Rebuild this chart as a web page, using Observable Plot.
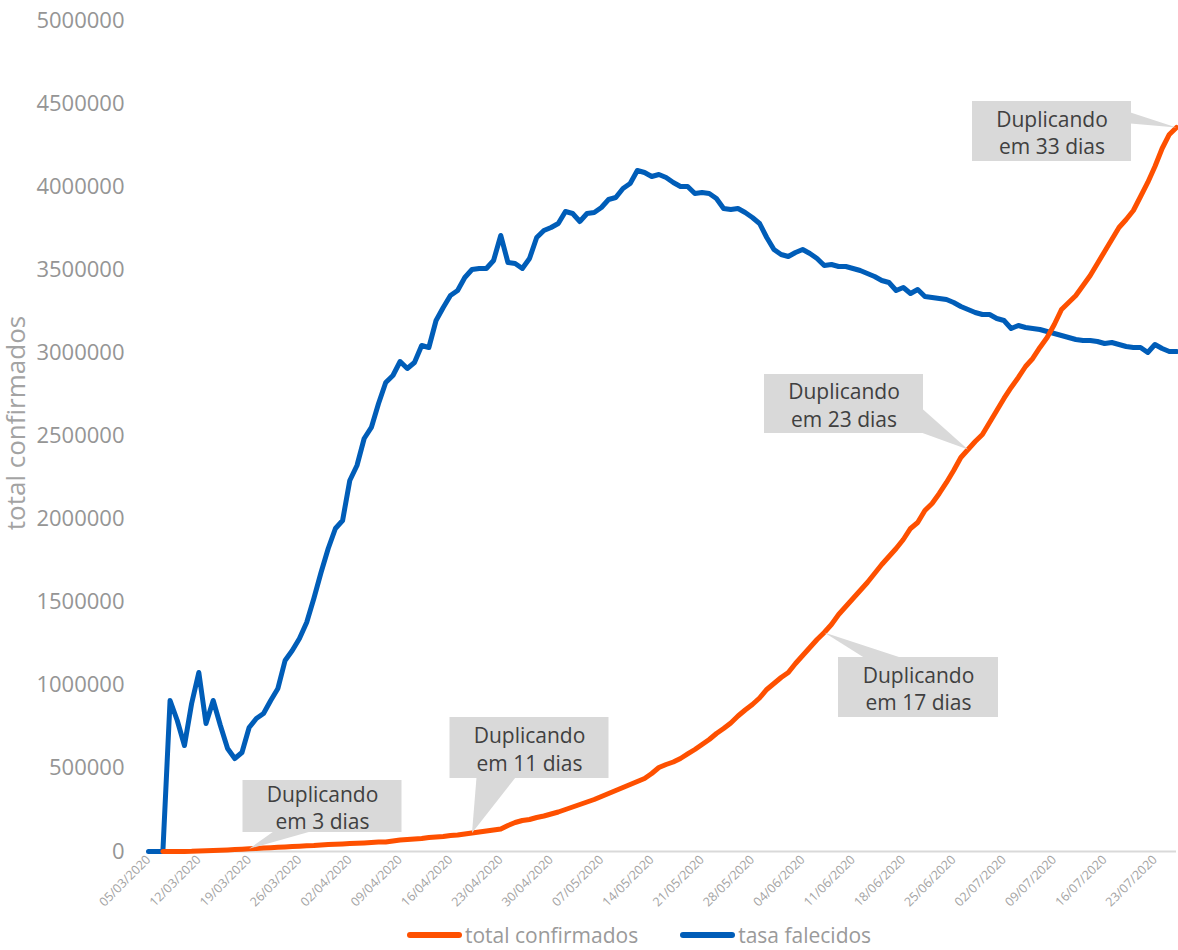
<!DOCTYPE html>
<html>
<head>
<meta charset="utf-8">
<script src="https://cdn.jsdelivr.net/npm/d3@7"></script>
<script src="https://cdn.jsdelivr.net/npm/@observablehq/plot@0.6"></script>
<style>
  html, body { margin: 0; padding: 0; background: #fff; }
  #wrap { position: relative; width: 1178px; height: 950px; font-family: "Open Sans", sans-serif; }
  #legend { position: absolute; left: 407px; top: 921px; display: flex; align-items: center; font-size: 21px; color: #9a9a9a; white-space: nowrap; }
  .sw { display: inline-block; width: 55px; height: 6px; border-radius: 3px; margin-right: 3px; }
</style>
</head>
<body>
<div id="wrap">
  <div id="chart"></div>
  <div id="legend"></div>
</div>
<script>
// ---------- DATA ----------
const startDate = "2020-03-05";
const nDays = 144; // 05/03/2020 .. 26/07/2020

const confirmados = [
  null, null, 100, 200, 300, 600, 1200, 3000, 4200, 6000,
  7800, 9600, 12000, 13800, 16200, 18000, 20500, 22900, 25300, 27700,
  30100, 31900, 34300, 36100, 39100, 42100, 43900, 45700, 48100, 49900,
  51700, 54200, 56600, 57200, 63200, 69200, 72200, 75200, 78200, 84200,
  87200, 90300, 96300, 99300, 105300, 111300, 117300, 123300, 129400, 135400,
  156400, 174500, 186500, 192500, 204600, 213600, 225600, 237700, 252700, 267800,
  282800, 297800, 312900, 330900, 349000, 367000, 385100, 403100, 421200, 439200,
  469300, 505400, 523500, 538500, 559600, 586700, 613700, 643800, 673900, 710000,
  740100, 773200, 815300, 851400, 884500, 923600, 974800, 1010900, 1047000, 1077000,
  1131200, 1179300, 1227500, 1275600, 1317700, 1365900, 1426000, 1474200, 1522300, 1570400,
  1618600, 1672700, 1726900, 1775000, 1823200, 1877300, 1943500, 1979600, 2051800, 2093900,
  2154100, 2220300, 2292500, 2370700, 2418800, 2467000, 2509100, 2581300, 2653500, 2725700,
  2791900, 2852100, 2918200, 2966400, 3032600, 3092700, 3171000, 3261200, 3303300, 3345500,
  3405600, 3465800, 3538000, 3610200, 3682400, 3754600, 3802700, 3856900, 3941100, 4025400,
  4121600, 4229900, 4314200, 4356300
];

const falecidos = [
  0, 0, 0, 908600, 788200, 637800, 890500, 1077000, 770200, 908600,
  758100, 619800, 559600, 595700, 746100, 800300, 830300, 908600, 980800, 1149200,
  1209400, 1281600, 1377900, 1522300, 1678700, 1823200, 1943500, 1991600, 2232300, 2322600,
  2485000, 2551200, 2695600, 2822000, 2864100, 2948300, 2906200, 2942300, 3044600, 3032600,
  3195000, 3273200, 3345500, 3375500, 3453800, 3501900, 3507900, 3507900, 3556000, 3706500,
  3544000, 3538000, 3507900, 3568100, 3694400, 3736600, 3754600, 3778700, 3850900, 3838800,
  3790700, 3838800, 3844900, 3874900, 3923100, 3935100, 3989300, 4019400, 4097600, 4085500,
  4061500, 4073500, 4055500, 4025400, 4001300, 4001300, 3959200, 3965200, 3959200, 3929100,
  3868900, 3862900, 3868900, 3844900, 3814800, 3778700, 3694400, 3622200, 3592100, 3580100,
  3604200, 3622200, 3598200, 3568100, 3526000, 3532000, 3519900, 3519900, 3507900, 3495900,
  3477800, 3459800, 3435700, 3423700, 3375500, 3393600, 3357500, 3381600, 3339400, 3333400,
  3327400, 3321400, 3303300, 3279300, 3261200, 3243200, 3231100, 3231100, 3207100, 3195000,
  3146900, 3164900, 3152900, 3146900, 3140900, 3128800, 3116800, 3104800, 3092700, 3080700,
  3074700, 3074700, 3068700, 3056600, 3062700, 3050600, 3038600, 3032600, 3032600, 3002500,
  3050600, 3026600, 3008500, 3008500
];

const yTicks = [0, 500000, 1000000, 1500000, 2000000, 2500000, 3000000, 3500000, 4000000, 4500000, 5000000];
const xTickLabels = ["05/03/2020","12/03/2020","19/03/2020","26/03/2020","02/04/2020","09/04/2020","16/04/2020",
  "23/04/2020","30/04/2020","07/05/2020","14/05/2020","21/05/2020","28/05/2020","04/06/2020","11/06/2020",
  "18/06/2020","25/06/2020","02/07/2020","09/07/2020","16/07/2020","23/07/2020"];

const seriesNames = ["total confirmados", "tasa falecidos"];
const yAxisTitle = "total confirmados";
const calloutTexts = ["Duplicando\nem 3 dias", "Duplicando\nem 11 dias", "Duplicando\nem 17 dias", "Duplicando\nem 23 dias", "Duplicando\nem 33 dias"];
const calloutTipDays = [14, 45, 94, 114, 143];

// ---------- LAYOUT ----------
const W = 1178, H = 915, ML = 148, MR = 2, MT = 20, MB = 64;
const colors = ["#fe5000", "#005db8"];
const start = new Date(startDate + "T00:00:00Z");
const dayToDate = d => new Date(start.getTime() + d * 864e5);
const end = dayToDate(nDays - 1);
const pxPerDay = (W - ML - MR) / (nDays - 1);
const valPerPx = 5000000 / (H - MT - MB);

const parseDMY = s => { const [d, m, y] = s.split("/").map(Number); return new Date(Date.UTC(y, m - 1, d)); };
const xTicks = xTickLabels.map(parseDMY);

const dates = d3.range(nDays).map(dayToDate);
const confRows = dates.map((date, i) => ({date, v: confirmados[i]}));
const falRows = dates.map((date, i) => ({date, v: falecidos[i]}));

// callout box placement (pixel layout converted to data space), pointer side
const boxLayout = [
  {cx: 322,  cy: 806,   w: 159, h: 52, side: "bottom", b0: -49, b1: -12},
  {cx: 529,  cy: 747.5, w: 159, h: 61, side: "bottom", b0: -53, b1: -14},
  {cx: 918,  cy: 687,   w: 160, h: 60, side: "top",    b0: -53, b1: -15},
  {cx: 843.5,cy: 403.5, w: 159, h: 59, side: "right",  b0: 5,   b1: 29},
  {cx: 1051.5,cy: 131,  w: 159, h: 60, side: "right",  b0: -19, b1: -8}
];
const pxToDate = px => dayToDate((px - ML) / pxPerDay);
const pxToVal = py => (H - MB - py) * valPerPx;

const callouts = calloutTexts.map((text, i) => {
  const b = boxLayout[i];
  return {
    id: i, text,
    x: pxToDate(b.cx), y: pxToVal(b.cy),
    x1: pxToDate(b.cx - b.w / 2), x2: pxToDate(b.cx + b.w / 2),
    y1: pxToVal(b.cy + b.h / 2), y2: pxToVal(b.cy - b.h / 2),
    tipDate: dates[calloutTipDays[i]], tipVal: confirmados[calloutTipDays[i]], b
  };
});
const triPts = [];
callouts.forEach(c => {
  const b = c.b;
  let p0, p1;
  if (b.side === "bottom") { p0 = [b.cx + b.b0, b.cy + b.h / 2 - 1]; p1 = [b.cx + b.b1, b.cy + b.h / 2 - 1]; }
  else if (b.side === "top") { p0 = [b.cx + b.b0, b.cy - b.h / 2 + 1]; p1 = [b.cx + b.b1, b.cy - b.h / 2 + 1]; }
  else { p0 = [b.cx + b.w / 2 - 1, b.cy + b.b0]; p1 = [b.cx + b.w / 2 - 1, b.cy + b.b1]; }
  triPts.push({id: c.id, x: pxToDate(p0[0]), y: pxToVal(p0[1])});
  triPts.push({id: c.id, x: c.tipDate, y: c.tipVal});
  triPts.push({id: c.id, x: pxToDate(p1[0]), y: pxToVal(p1[1])});
});

const fmtDMY = d3.utcFormat("%d/%m/%Y");

const chart = Plot.plot({
  width: W, height: H,
  marginLeft: ML, marginRight: MR, marginTop: MT, marginBottom: MB,
  style: {fontFamily: "'Open Sans', sans-serif", background: "#fff", overflow: "visible"},
  x: {type: "utc", domain: [start, end]},
  y: {domain: [0, 5000000]},
  marks: [
    Plot.ruleY([0], {stroke: "#d9d9d9", strokeWidth: 2}),
    Plot.axisY({ticks: yTicks, tickSize: 0, tickPadding: 24, fontSize: 22, color: "#959595", tickFormat: d => String(d), label: null}),
    Plot.axisX({ticks: xTicks, tickFormat: fmtDMY, tickRotate: -45, tickSize: 0, tickPadding: 6, fontSize: 12.5, color: "#a3a3a3", label: null}),
    Plot.text([yAxisTitle], {frameAnchor: "left", textAnchor: "middle", dx: -132, dy: -13, rotate: -90, fontSize: 26, fill: "#a3a3a3"}),
    Plot.line(falRows, {x: "date", y: "v", stroke: colors[1], strokeWidth: 5, strokeLinejoin: "round", strokeLinecap: "round"}),
    Plot.line(confRows, {x: "date", y: "v", stroke: colors[0], strokeWidth: 5, strokeLinejoin: "round", strokeLinecap: "round"}),
    Plot.line(triPts, {x: "x", y: "y", z: "id", fill: "#d9d9d9", stroke: "none"}),
    Plot.rect(callouts, {x1: "x1", x2: "x2", y1: "y1", y2: "y2", fill: "#d9d9d9"}),
    Plot.text(callouts, {x: "x", y: "y", text: "text", fontSize: 21, lineHeight: 1.32, fill: "#404040"})
  ]
});
document.getElementById("chart").appendChild(chart);

const legend = document.getElementById("legend");
seriesNames.forEach((name, i) => {
  const item = document.createElement("span");
  item.style.display = "inline-flex";
  item.style.alignItems = "center";
  item.style.marginRight = i === 0 ? "42px" : "0";
  const sw = document.createElement("span");
  sw.className = "sw";
  sw.style.background = colors[i];
  const t = document.createElement("span");
  t.textContent = name;
  item.appendChild(sw); item.appendChild(t);
  legend.appendChild(item);
});
</script>
</body>
</html>
